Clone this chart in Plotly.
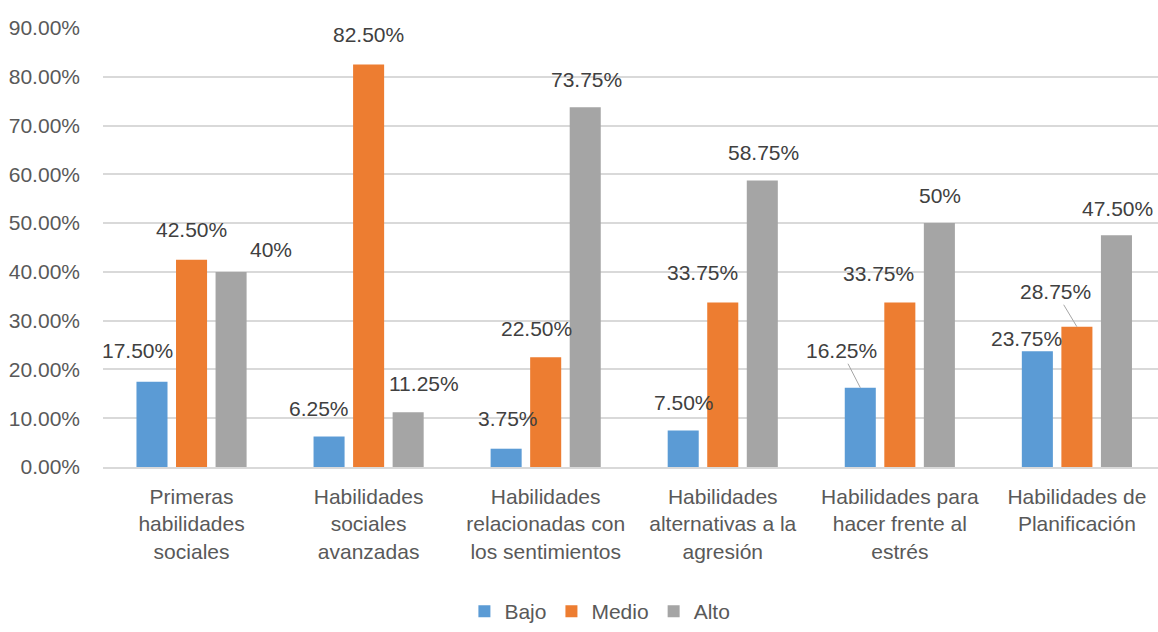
import plotly.graph_objects as go

# categorías del eje x
categorias = [
    "Primeras<br>habilidades<br>sociales",
    "Habilidades<br>sociales<br>avanzadas",
    "Habilidades<br>relacionadas con<br>los sentimientos",
    "Habilidades<br>alternativas a la<br>agresión",
    "Habilidades para<br>hacer frente al<br>estrés",
    "Habilidades de<br>Planificación",
]

# porcentajes por nivel
bajo = [17.50, 6.25, 3.75, 7.50, 16.25, 23.75]
medio = [42.50, 82.50, 22.50, 33.75, 33.75, 28.75]
alto = [40.00, 11.25, 73.75, 58.75, 50.00, 47.50]

y_ticks = [0, 10, 20, 30, 40, 50, 60, 70, 80, 90]

series = [("Bajo", bajo, "#5B9BD5"), ("Medio", medio, "#ED7D31"), ("Alto", alto, "#A5A5A5")]

# desplazamiento de las etiquetas respecto a lo alto de cada barra (px): (dx, dy, con_linea)
label_off = [
    [(-15, 31, False), (-10, 28, False), (2, 30, False), (1, 28, False), (-19, 37, True), (-11, 13, False)],
    [(0, 30, False), (0, 30, False), (-9, 29, False), (-20, 30, False), (-21, 29, False), (-21, 35, True)],
    [(40, 22, False), (16, 29, False), (1, 28, False), (1, 28, False), (1, 28, False), (1, 27, False)],
]

FONT = "Liberation Sans, Arial, sans-serif"
FS = 21
BAR_PITCH = 39.5

fig = go.Figure()
for name, vals, color in series:
    fig.add_trace(go.Bar(
        name=name, x=list(range(len(categorias))), y=vals,
        marker=dict(color=color, line=dict(width=0)),
        hoverinfo="y",
    ))


def fmt(v):
    return f"{v:.0f}%" if float(v).is_integer() else f"{v:.2f}%"


annotations = []
for s, (name, vals, color) in enumerate(series):
    shift = (s - 1) * BAR_PITCH
    for i, v in enumerate(vals):
        dx, dy, linea = label_off[s][i]
        if linea:
            annotations.append(dict(
                x=i, y=v, xref="x", yref="y", text=fmt(v),
                xshift=shift, showarrow=True, ax=dx, ay=-dy,
                arrowhead=0, arrowwidth=1, arrowcolor="#A6A6A6",
                font=dict(family=FONT, size=FS, color="#404040"),
            ))
        else:
            annotations.append(dict(
                x=i, y=v, xref="x", yref="y", text=fmt(v),
                xshift=shift + dx, yshift=dy, showarrow=False,
                font=dict(family=FONT, size=FS, color="#404040"),
            ))

fig.update_layout(
    width=1158, height=632,
    margin=dict(l=103, r=0, t=28, b=165, autoexpand=False),
    paper_bgcolor="white", plot_bgcolor="white",
    barmode="group", bargap=0.33, bargroupgap=0.215,
    font=dict(family=FONT, size=FS, color="#595959"),
    showlegend=True,
    legend=dict(
        orientation="h", x=0.471, xanchor="center",
        yref="container", y=0, yanchor="bottom",
        font=dict(family=FONT, size=FS, color="#595959"),
        traceorder="normal",
    ),
    annotations=annotations,
)
fig.update_xaxes(
    tickmode="array", tickvals=list(range(len(categorias))), ticktext=categorias,
    range=[-0.5, 5.458], showgrid=False, showline=True, linecolor="#D9D9D9", linewidth=1.5,
    ticks="", tickfont=dict(size=FS, color="#595959"), ticklabelstandoff=10,
    automargin=False,
)
fig.update_yaxes(
    range=[0, 90], tickmode="array", tickvals=y_ticks,
    ticktext=[f"{t:.2f}%" for t in y_ticks],
    showgrid=True, gridcolor="#D9D9D9", gridwidth=1.5, zeroline=False,
    showline=False, ticks="", ticklabelstandoff=22,
    tickfont=dict(size=FS, color="#595959"), automargin=False,
)

fig.write_html(
    "out.html",
    config={"displayModeBar": False},
    post_script="document.body.style.margin='0';",
)
